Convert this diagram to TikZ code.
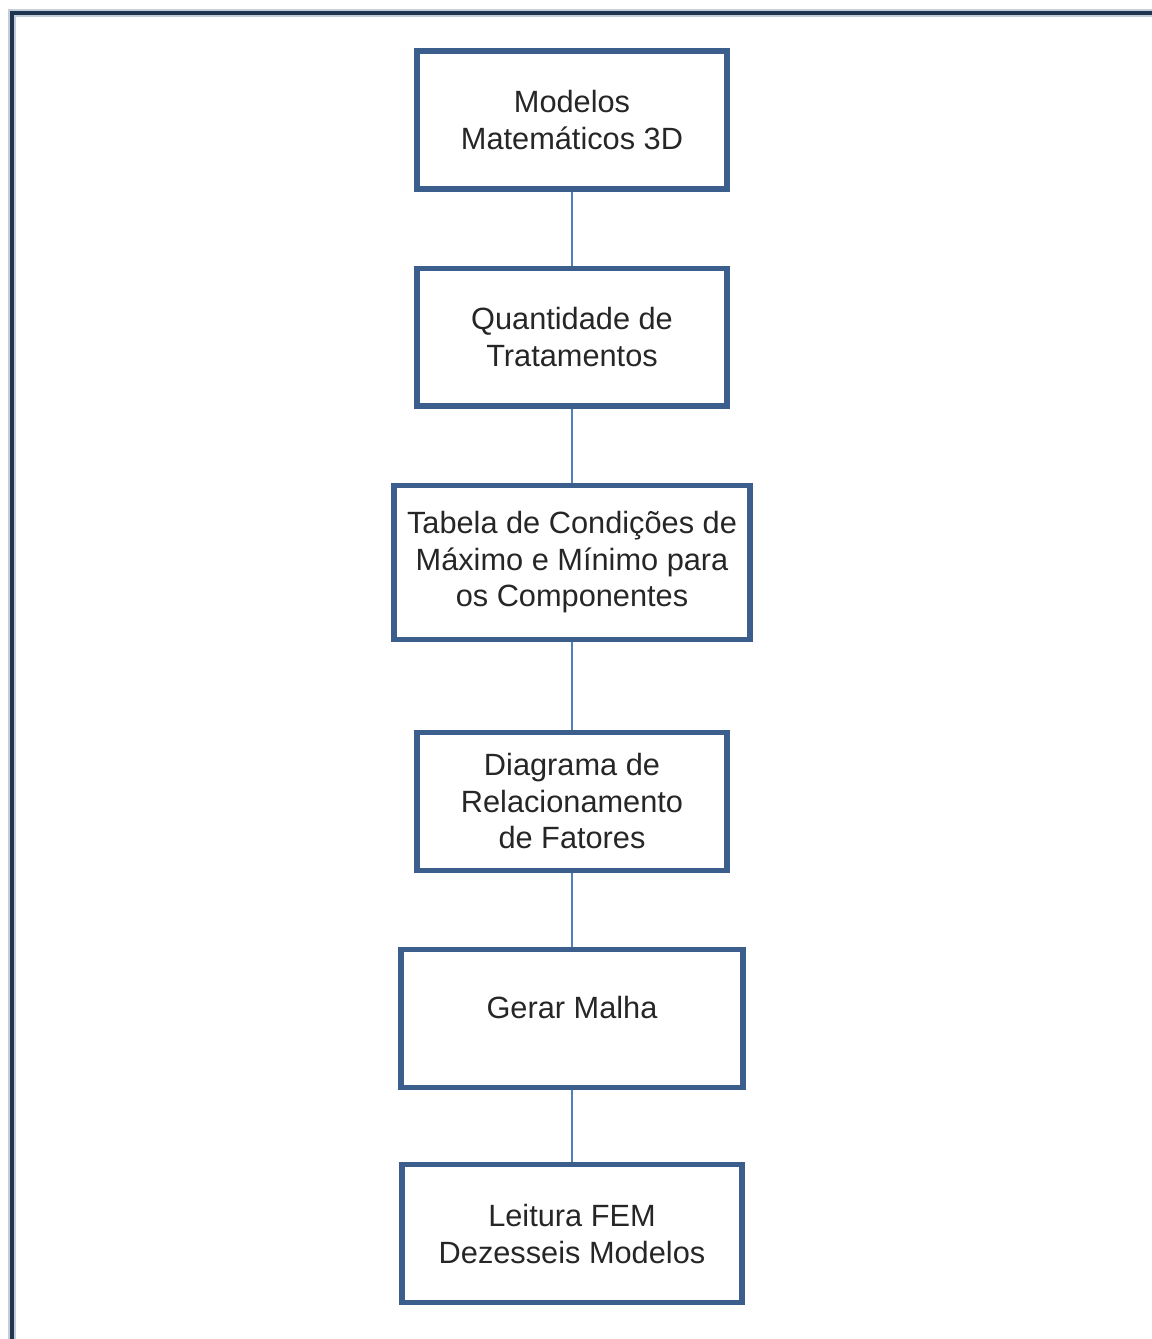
\documentclass[tikz,border=0pt]{standalone}
\usepackage{fontspec}
\setmainfont{Liberation Sans}
\usetikzlibrary{positioning}
\definecolor{boxblue}{HTML}{3B5E8C}
\definecolor{linkblue}{HTML}{4F81BD}
\definecolor{framenavy}{HTML}{1F3550}
\definecolor{framegray}{HTML}{C5CDD8}

\begin{document}
\begin{tikzpicture}[x=0.02cm, y=-0.02cm, node distance=1.48cm, every node/.style={font=\fontsize{17.5pt}{20.8pt}\selectfont, text=black!85}, box/.style={draw=boxblue, line width=2.9pt, align=center, minimum width=6.2cm, minimum height=2.76cm, inner sep=2pt}, link/.style={draw=linkblue, line width=0.9pt}]
\useasboundingbox (0,0) rectangle (1152,1339);
% page frame
\draw[framegray, line width=4.5pt] (1152,13) -- (12,13) -- (12,1339);
\draw[framenavy, line width=2.2pt] (1152,13) -- (12,13) -- (12,1339);
\node[box] (modelos) at (572,120) {Modelos\\Matemáticos 3D};
\node[box, below=of modelos] (quant) {Quantidade de\\Tratamentos};
\node[box, below=of quant, minimum width=7.12cm, minimum height=3.08cm] (tabela) {Tabela de Condições de\\Máximo e Mínimo para\\os Componentes};
\node[box, below=1.76cm of tabela] (diagrama) {Diagrama de\\Relacionamento\\de Fatores};
\node[box, below=of diagrama, minimum width=6.84cm, text depth=12pt] (malha) {Gerar Malha};
\node[box, below=1.45cm of malha, minimum width=6.8cm] (leitura) {Leitura FEM\\Dezesseis Modelos};
\draw[link] (modelos)--(quant); \draw[link] (quant)--(tabela); \draw[link] (tabela)--(diagrama); \draw[link] (diagrama)--(malha); \draw[link] (malha)--(leitura);
\end{tikzpicture}
\end{document}
